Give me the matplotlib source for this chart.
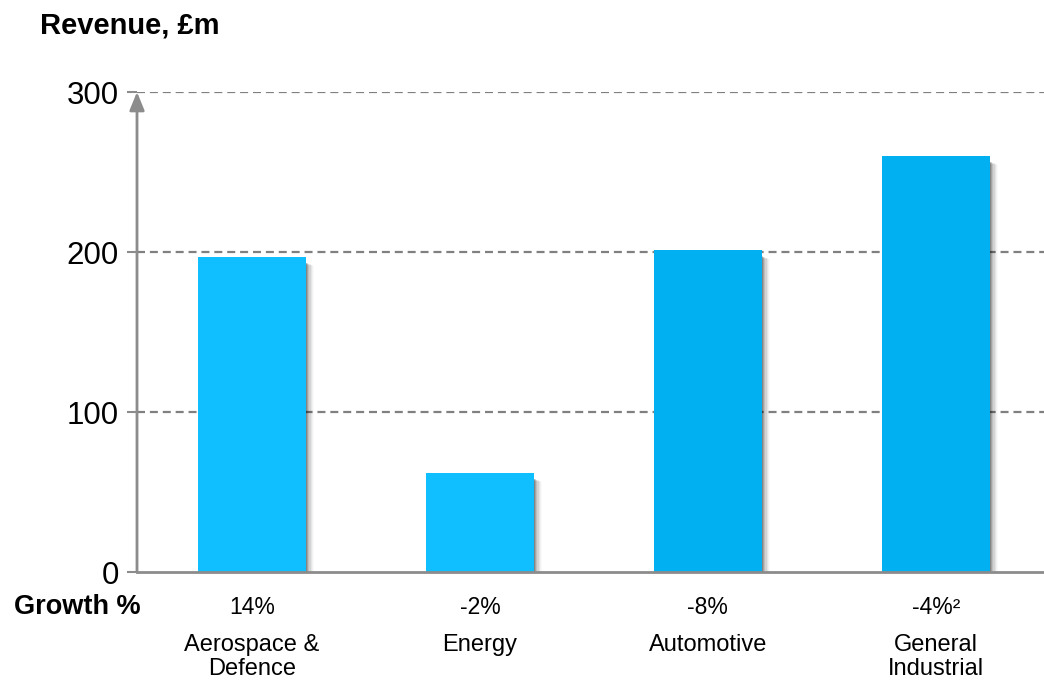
import matplotlib.pyplot as plt
from matplotlib.patches import Rectangle

plt.rcParams['font.family'] = ['Liberation Sans', 'DejaVu Sans']

# Revenue by market, £m
categories = ['Aerospace &\nDefence', 'Energy', 'Automotive', 'General\nIndustrial']
revenue = [197, 62, 201, 260]
growth = ['14%', '-2%', '-8%', '-4%²']
bar_colors = ['#10BFFF', '#10BFFF', '#00B0F0', '#00B0F0']

yticks = [0, 100, 200, 300]
width = 0.474
x = list(range(len(categories)))

fig = plt.figure(figsize=(10.44, 6.95), dpi=100)
ax = fig.add_axes([137 / 1044, 1 - 572 / 695, 1 - 137 / 1044, (572 - 92) / 695])
ax.set_xlim(-0.504, 3.474)
ax.set_ylim(0, 300)

# soft drop shadow to the right of each bar
for xi, v in zip(x, revenue):
    for k, a in enumerate([0.18, 0.14, 0.10, 0.07, 0.05, 0.03, 0.02]):
        off = 0.005 + k * 0.005
        ax.add_patch(Rectangle((xi - width / 2 + off, -1.2 - k * 0.3), width, v - 2.5,
                               facecolor='black', alpha=a, edgecolor='none', zorder=2))

ax.bar(x, revenue, width=width, color=bar_colors, zorder=3)

for y in yticks[1:]:
    ax.axhline(y, color='#808080', lw=1.6, ls=(0, (3.6, 2.2)), zorder=1)

for s in ['top', 'right', 'left']:
    ax.spines[s].set_visible(False)
ax.spines['bottom'].set_color('#8c8c8c')
ax.spines['bottom'].set_linewidth(2)
ax.spines['bottom'].set_zorder(4)

# vertical axis drawn as an arrow
ax.annotate('', xy=(-0.504, 300), xytext=(-0.504, 0), xycoords='data',
            arrowprops=dict(arrowstyle='-|>,head_length=1.1,head_width=0.45',
                            color='#8c8c8c', lw=2, shrinkA=0, shrinkB=0),
            annotation_clip=False, zorder=5)

ax.set_yticks(yticks)
ax.set_yticklabels([str(t) for t in yticks], fontsize=22.5)
ax.tick_params(axis='y', length=7, width=1.5, color='#8c8c8c', pad=6)
ax.set_xticks([])

for xi, g, c in zip(x, growth, categories):
    ax.text(xi, -22.5, g, ha='center', va='center', fontsize=16.5, color='black')
    ax.text(xi, -39, c, ha='center', va='top', fontsize=17, color='black',
            linespacing=1.08)

fig.text(141 / 1044, 1 - 607 / 695, 'Growth %', ha='right', va='center',
         fontsize=19.5, fontweight='bold')
fig.text(40 / 1044, 1 - 25 / 695, 'Revenue, £m', ha='left', va='center',
         fontsize=21, fontweight='bold')

fig.savefig('out.png', dpi=100)
